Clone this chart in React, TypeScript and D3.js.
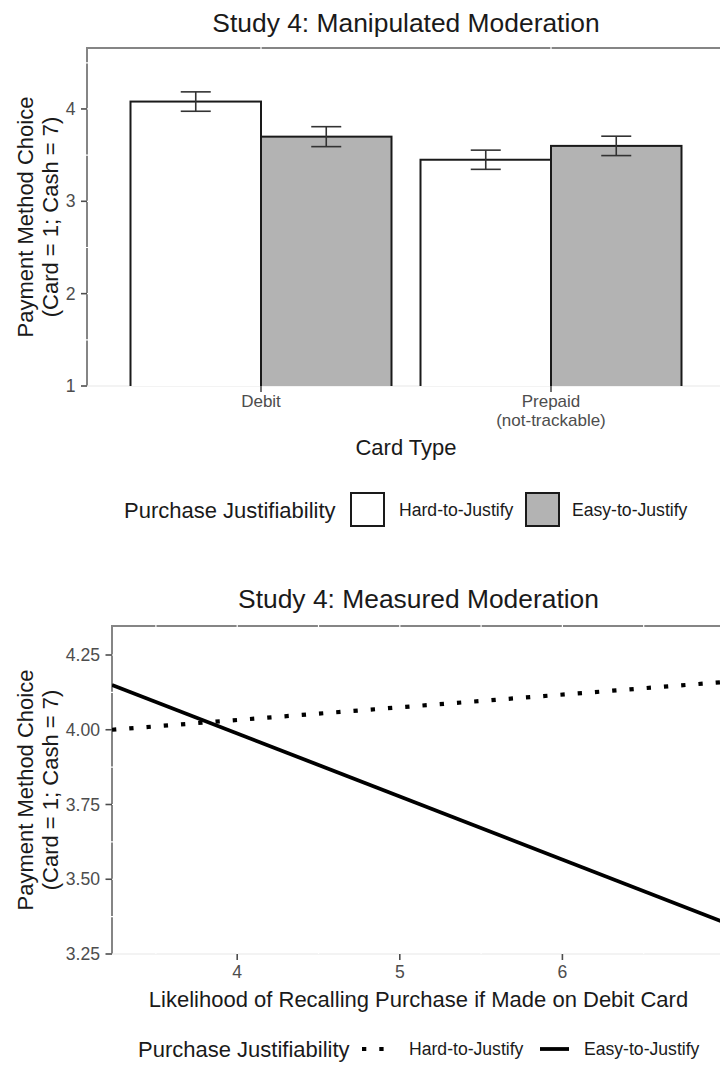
import React from "react";
import * as d3 from "d3";

// Study 4: manipulated moderation (bar chart)
const cardTypes = ["Debit", "Prepaid"];
const cardTypeLabels = [["Debit"], ["Prepaid", "(not-trackable)"]];
const groups = ["Hard-to-Justify", "Easy-to-Justify"];
const hardMeans = [4.08, 3.45];
const easyMeans = [3.7, 3.6];
const hardSE = [0.105, 0.104];
const easySE = [0.108, 0.105];
const barYTicks = [1, 2, 3, 4];
const barYMinor = [1.5, 2.5, 3.5, 4.5];

// Study 4: measured moderation (lines)
const recallX = [3.23, 7];
const hardLine = [4.0, 4.16];
const easyLine = [4.15, 3.355];
const lineXTicks = [4, 5, 6];
const lineXMinor = [3.5, 4.5, 5.5, 6.5];
const lineYTicks = [3.25, 3.5, 3.75, 4.0, 4.25];
const lineYMinor = [3.375, 3.625, 3.875, 4.125];

const FONT = "'Liberation Sans', Arial, Helvetica, sans-serif";
const TICK_COLOR = "#4d4d4d";
const BORDER = "#858585";
const FILL_EASY = "#b3b3b3";

const barData = cardTypes.flatMap((c, i) => [
  { card: c, group: groups[0], mean: hardMeans[i], se: hardSE[i] },
  { card: c, group: groups[1], mean: easyMeans[i], se: easySE[i] },
]);

const YTitle = ({ cy }) => (
  <text
    transform={`translate(0, ${cy}) rotate(-90)`}
    textAnchor="middle"
    fontSize={22}
    fill="#1a1a1a"
  >
    <tspan x={0} y={33}>Payment Method Choice</tspan>
    <tspan x={0} y={58}>(Card = 1; Cash = 7)</tspan>
  </text>
);

const BarPanel = () => {
  const dms = { left: 87, right: 725, top: 48, bottom: 386 };
  const x = d3
    .scaleBand()
    .domain(cardTypes)
    .range([dms.left, dms.right])
    .paddingInner(0.1)
    .paddingOuter(0.15);
  const xGroup = d3.scaleBand().domain(groups).range([0, x.bandwidth()]);
  const y = d3.scaleLinear().domain([1, 4.66]).range([dms.bottom, dms.top]);
  const cap = 30;
  const cx = (dms.left + dms.right) / 2;

  return (
    <g>
      <defs>
        <clipPath id="barClip">
          <rect x={dms.left} y={dms.top} width={dms.right - dms.left} height={dms.bottom - dms.top} />
        </clipPath>
      </defs>
      <text x={cx} y={32} textAnchor="middle" fontSize={26.4} fill="#1a1a1a">
        Study 4: Manipulated Moderation
      </text>

      {/* border */}
      <line x1={dms.left} x2={dms.right} y1={dms.bottom} y2={dms.bottom} stroke="#e6e6e6" strokeWidth={2} />
      <line x1={dms.left} x2={dms.right} y1={dms.top} y2={dms.top} stroke={BORDER} strokeWidth={2} />
      <line x1={dms.left} x2={dms.left} y1={dms.top - 1} y2={dms.bottom} stroke={BORDER} strokeWidth={2} />

      {/* white grid lines over the border */}
      {[...barYTicks, ...barYMinor].map((t) => (
        <line key={`gy${t}`} x1={dms.left - 2} x2={dms.right} y1={y(t)} y2={y(t)} stroke="white" strokeWidth={1.2} />
      ))}
      {cardTypes.map((c) => (
        <line key={`gx${c}`} x1={x(c) + x.bandwidth() / 2} x2={x(c) + x.bandwidth() / 2} y1={dms.top - 2} y2={dms.bottom} stroke="white" strokeWidth={1.2} />
      ))}

      <g clipPath="url(#barClip)">
        {barData.map((d) => (
          <rect
            key={d.card + d.group}
            x={x(d.card) + xGroup(d.group)}
            y={y(d.mean)}
            width={xGroup.bandwidth()}
            height={y(0) - y(d.mean)}
            fill={d.group === groups[0] ? "white" : FILL_EASY}
            stroke="#1a1a1a"
            strokeWidth={2}
          />
        ))}
      </g>
      {barData.map((d) => {
        const mx = x(d.card) + xGroup(d.group) + xGroup.bandwidth() / 2;
        return (
          <g key={`e${d.card}${d.group}`} stroke="#333" strokeWidth={1.6}>
            <line x1={mx} x2={mx} y1={y(d.mean + d.se)} y2={y(d.mean - d.se)} />
            <line x1={mx - cap / 2} x2={mx + cap / 2} y1={y(d.mean + d.se)} y2={y(d.mean + d.se)} />
            <line x1={mx - cap / 2} x2={mx + cap / 2} y1={y(d.mean - d.se)} y2={y(d.mean - d.se)} />
          </g>
        );
      })}

      {/* y axis */}
      {barYTicks.map((t) => (
        <g key={`yt${t}`}>
          <line x1={dms.left - 6} x2={dms.left} y1={y(t)} y2={y(t)} stroke={TICK_COLOR} strokeWidth={1.6} />
          <text x={dms.left - 11.5} y={y(t)} dy="0.35em" textAnchor="end" fontSize={17.6} fill={TICK_COLOR}>
            {t}
          </text>
        </g>
      ))}
      {/* x axis */}
      {cardTypes.map((c, i) => {
        const mx = x(c) + x.bandwidth() / 2;
        return (
          <g key={`xt${c}`}>
            <line x1={mx} x2={mx} y1={dms.bottom} y2={dms.bottom + 6} stroke={TICK_COLOR} strokeWidth={1.6} />
            {cardTypeLabels[i].map((l, j) => (
              <text key={l} x={mx} y={407 + j * 19} textAnchor="middle" fontSize={17} fill={TICK_COLOR}>
                {l}
              </text>
            ))}
          </g>
        );
      })}
      <text x={cx} y={455} textAnchor="middle" fontSize={22} fill="#1a1a1a">Card Type</text>
      <YTitle cy={(dms.top + dms.bottom) / 2} />

      {/* legend */}
      <g>
        <text x={124} y={518} fontSize={22} fill="#1a1a1a">Purchase Justifiability</text>
        <rect x={351} y={493} width={33} height={33} fill="white" stroke="#1a1a1a" strokeWidth={2} />
        <text x={399} y={516} fontSize={17.6} fill="#1a1a1a">{groups[0]}</text>
        <rect x={526} y={493} width={33} height={33} fill={FILL_EASY} stroke="#1a1a1a" strokeWidth={2} />
        <text x={572} y={516} fontSize={17.6} fill="#1a1a1a">{groups[1]}</text>
      </g>
    </g>
  );
};

const LinePanel = () => {
  const dms = { left: 112, right: 725, top: 626, bottom: 954 };
  const x = d3.scaleLinear().domain([3.23, 7]).range([dms.left, dms.right]);
  const y = d3.scaleLinear().domain([3.25, 4.347]).range([dms.bottom, dms.top]);
  const line = d3
    .line()
    .x((d) => x(d[0]))
    .y((d) => y(d[1]));
  const hardPts = recallX.map((v, i) => [v, hardLine[i]]);
  const easyPts = recallX.map((v, i) => [v, easyLine[i]]);
  const cx = (dms.left + dms.right) / 2;
  const legendY = 1049;

  return (
    <g>
      <defs>
        <clipPath id="lineClip">
          <rect x={dms.left} y={dms.top} width={dms.right - dms.left} height={dms.bottom - dms.top} />
        </clipPath>
      </defs>
      <text x={cx} y={608} textAnchor="middle" fontSize={26.4} fill="#1a1a1a">
        Study 4: Measured Moderation
      </text>

      <line x1={dms.left} x2={dms.right} y1={dms.bottom} y2={dms.bottom} stroke="#e6e6e6" strokeWidth={2} />
      <line x1={dms.left} x2={dms.right} y1={dms.top} y2={dms.top} stroke={BORDER} strokeWidth={2} />
      <line x1={dms.left} x2={dms.left} y1={dms.top - 1} y2={dms.bottom} stroke={BORDER} strokeWidth={2} />

      {[...lineYTicks, ...lineYMinor].map((t) => (
        <line key={`gy${t}`} x1={dms.left - 2} x2={dms.right} y1={y(t)} y2={y(t)} stroke="white" strokeWidth={1.2} />
      ))}
      {[...lineXTicks, ...lineXMinor].map((t) => (
        <line key={`gx${t}`} x1={x(t)} x2={x(t)} y1={dms.top - 2} y2={dms.bottom} stroke="white" strokeWidth={1.2} />
      ))}

      <g clipPath="url(#lineClip)" fill="none" stroke="black">
        <path d={line(hardPts)} strokeWidth={4.2} strokeDasharray="4.3 13" />
        <path d={line(easyPts)} strokeWidth={3.8} />
      </g>

      {lineYTicks.map((t) => (
        <g key={`yt${t}`}>
          <line x1={dms.left - 6.5} x2={dms.left} y1={y(t)} y2={y(t)} stroke={TICK_COLOR} strokeWidth={1.6} />
          <text x={dms.left - 12} y={y(t)} dy="0.35em" textAnchor="end" fontSize={17.6} fill={TICK_COLOR}>
            {d3.format(".2f")(t)}
          </text>
        </g>
      ))}
      {lineXTicks.map((t) => (
        <g key={`xt${t}`}>
          <line x1={x(t)} x2={x(t)} y1={dms.bottom} y2={dms.bottom + 6} stroke={TICK_COLOR} strokeWidth={1.6} />
          <text x={x(t)} y={978} textAnchor="middle" fontSize={17.6} fill={TICK_COLOR}>{t}</text>
        </g>
      ))}
      <text x={cx} y={1007} textAnchor="middle" fontSize={22} fill="#1a1a1a">
        Likelihood of Recalling Purchase if Made on Debit Card
      </text>
      <YTitle cy={(dms.top + dms.bottom) / 2} />

      {/* legend */}
      <g>
        <text x={138} y={legendY + 7.5} fontSize={22} fill="#1a1a1a">Purchase Justifiability</text>
        <line x1={362} x2={392} y1={legendY} y2={legendY} stroke="black" strokeWidth={4.2} strokeDasharray="4.3 13" />
        <text x={409} y={legendY + 6} fontSize={17.6} fill="#1a1a1a">{groups[0]}</text>
        <line x1={540} x2={569} y1={legendY} y2={legendY} stroke="black" strokeWidth={3.8} />
        <text x={584} y={legendY + 6} fontSize={17.6} fill="#1a1a1a">{groups[1]}</text>
      </g>
    </g>
  );
};

export default function App() {
  return (
    <>
      <style>{`body { margin: 0; }`}</style>
      <svg width={720} height={1070} style={{ display: "block", background: "white" }} fontFamily={FONT}>
        <BarPanel />
        <LinePanel />
      </svg>
    </>
  );
}
